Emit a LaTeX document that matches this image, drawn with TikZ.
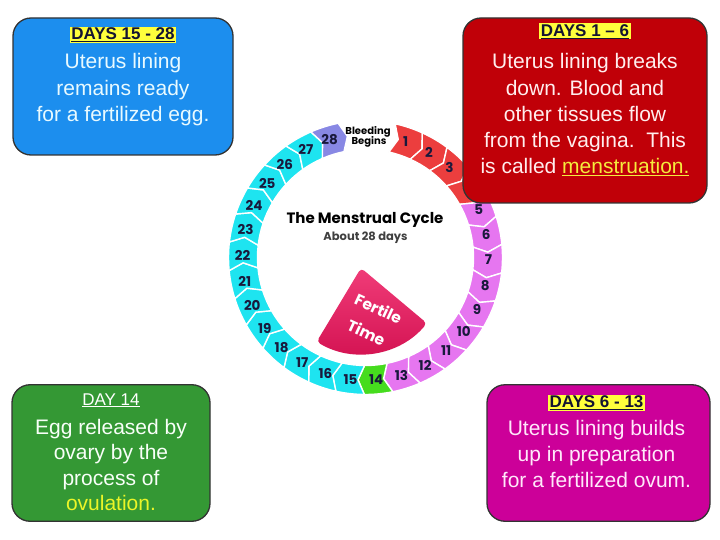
\documentclass[tikz,border=0pt]{standalone}
\usepackage{fontspec}
\setmainfont{Liberation Sans}
\newfontfamily\popfont{Poppins}
\definecolor{boxblue}{RGB}{28,142,238}
\definecolor{boxred}{RGB}{192,0,8}
\definecolor{boxgreen}{RGB}{52,152,52}
\definecolor{boxmag}{RGB}{204,0,153}
\definecolor{hl}{RGB}{255,255,60}
\definecolor{titlecol}{RGB}{20,20,50}
\definecolor{segred}{RGB}{236,62,62}
\definecolor{segpink}{RGB}{230,118,240}
\definecolor{seggreen}{RGB}{70,220,30}
\definecolor{segcyan}{RGB}{30,228,240}
\definecolor{seglav}{RGB}{136,136,228}
\definecolor{numcol}{RGB}{25,25,60}
\definecolor{fertTop}{RGB}{240,60,120}
\definecolor{fertBot}{RGB}{210,16,80}
\definecolor{bluetxt}{RGB}{232,250,255}
\definecolor{redtxt}{RGB}{255,238,238}
\definecolor{greentxt}{RGB}{248,255,248}
\definecolor{magtxt}{RGB}{255,232,250}
\definecolor{menyel}{RGB}{245,235,60}
\definecolor{ovyel}{RGB}{235,245,40}
\newcommand\myul[1]{\setbox0\hbox{#1}\rlap{\rule[-2.4pt]{\wd0}{1.1pt}}\box0}
\begin{document}
\begin{tikzpicture}[x=1pt,y=-1pt,
  seg/.style={draw=white, line width=1.4pt, line join=round},
  num/.style={font=\popfont\bfseries\fontsize{13.5}{15}\selectfont, text=numcol, inner sep=0pt},
  infobox/.style={draw=black!80, line width=1.3pt, rounded corners=18pt, inner sep=0pt},
  body/.style={anchor=base, inner sep=0pt, font=\fontsize{21}{26}\selectfont},
  hltitle/.style={anchor=base, fill=hl, inner xsep=1.5pt, inner ysep=0pt, text height=13pt, text depth=3pt, text=titlecol, font=\bfseries\fontsize{17}{20}\selectfont},
  plaintitle/.style={anchor=base, inner sep=0pt, font=\fontsize{17}{20}\selectfont},
  ferttxt/.style={rotate=-25, text=white, inner sep=0pt, font=\popfont\bfseries\fontsize{15.5}{18}\selectfont},
]
\useasboundingbox (0,0) rectangle (720,540);
\fill[white] (0,0) rectangle (720,540);

% ring
\begin{scope}[shift={(365.5,257.5)}, y=1pt]
\foreach \k in {1,...,28}{
  \ifnum\k<5 \def\segcol{segred}\else\ifnum\k<14 \def\segcol{segpink}\else\ifnum\k=14 \def\segcol{seggreen}\else\ifnum\k<28 \def\segcol{segcyan}\else\def\segcol{seglav}\fi\fi\fi\fi
  \pgfmathsetmacro\ta{90-(12.5+(\k-1)*12)}
  \pgfmathsetmacro\tb{\ta-12}
  \pgfmathsetmacro\ttp{\ta-3}
  \pgfmathsetmacro\tbp{\tb-3}
  \pgfmathsetmacro\tm{\ta-6.5}
  \filldraw[seg, fill=\segcol] (\ta:108) -- (\ttp:122.5) -- (\ta:137)
     arc[start angle=\ta, end angle=\tb, radius=137] -- (\tbp:122.5) -- (\tb:108)
     arc[start angle=\tb, end angle=\ta, radius=108] -- cycle;
  \ifnum\k=4 \else \node[num] (n\k) at (\tm:123) {\k}; \fi
}
\shade[top color=fertTop, bottom color=fertBot, rounded corners=4pt]
  (-4.5,-10.5) -- ++(-121:86) arc[start angle=-121, end angle=-40, radius=86] -- cycle;
\node[ferttxt] (fert1) at (13,-51) {Fertile};
\node[ferttxt] (fert2) at (1,-75) {Time};
\end{scope}

\node[font=\popfont\bfseries\fontsize{15}{18}\selectfont, text=black] (ctitle) at (365,220) {The Menstrual Cycle};
\node[font=\popfont\bfseries\fontsize{11.5}{14}\selectfont, text=black!75] (csub) at (365.5,238) {About 28 days};
\node[font=\popfont\bfseries\fontsize{10}{11}\selectfont, text=black] (bleed1) at (368,131.5) {Bleeding};
\node[font=\popfont\bfseries\fontsize{10}{11}\selectfont, text=black] (bleed2) at (369,142) {Begins};

% boxes
\node[infobox, fill=boxblue, minimum width=220pt, minimum height=137pt] (bluebox) at (123,86.5) {};
\node[infobox, fill=boxred, minimum width=244pt, minimum height=185pt] (redbox) at (585,110.5) {};
\node[infobox, fill=boxgreen, minimum width=198pt, minimum height=136.5pt] (greenbox) at (111,453) {};
\node[infobox, fill=boxmag, minimum width=223pt, minimum height=136.5pt] (magbox) at (598.5,453) {};

% blue text
\node[hltitle] (bt) at (123,40) {\myul{DAYS 15 - 28}};
\node[body, text=bluetxt] (b1) at (123,69) {Uterus lining};
\node[body, text=bluetxt] (b2) at (123,95.5) {remains ready};
\node[body, text=bluetxt] (b3) at (123,122) {for a fertilized egg.};

% red text
\node[hltitle] (rt) at (585,36.5) {\myul{DAYS 1 – 6}};
\node[body, text=redtxt] (r1) at (585,69) {Uterus lining breaks};
\node[body, text=redtxt] (r2) at (585,95.5) {down. Blood and};
\node[body, text=redtxt] (r3) at (585,121.5) {other tissues flow};
\node[body, text=redtxt] (r4) at (585,148) {from the vagina.\ \ This};
\node[body, text=redtxt] (r5) at (585,174) {is called \textcolor{menyel}{\myul{menstruation.}}};

% green text
\node[plaintitle, text=white] (gt) at (111,405) {\myul{DAY 14}};
\node[body, text=greentxt] (g1) at (111,434.5) {Egg released by};
\node[body, text=greentxt] (g2) at (111,459.5) {ovary by the};
\node[body, text=greentxt] (g3) at (111,485) {process of};
\node[body, text=ovyel] (g4) at (111,510.5) {ovulation.};

% magenta text
\node[hltitle] (mt) at (596.5,407.5) {\myul{DAYS 6 - 13}};
\node[body, text=magtxt] (m1) at (596.5,435.5) {Uterus lining builds};
\node[body, text=magtxt] (m2) at (596.5,461.5) {up in preparation};
\node[body, text=magtxt] (m3) at (596.5,487.5) {for a fertilized ovum.};
\end{tikzpicture}
\end{document}
